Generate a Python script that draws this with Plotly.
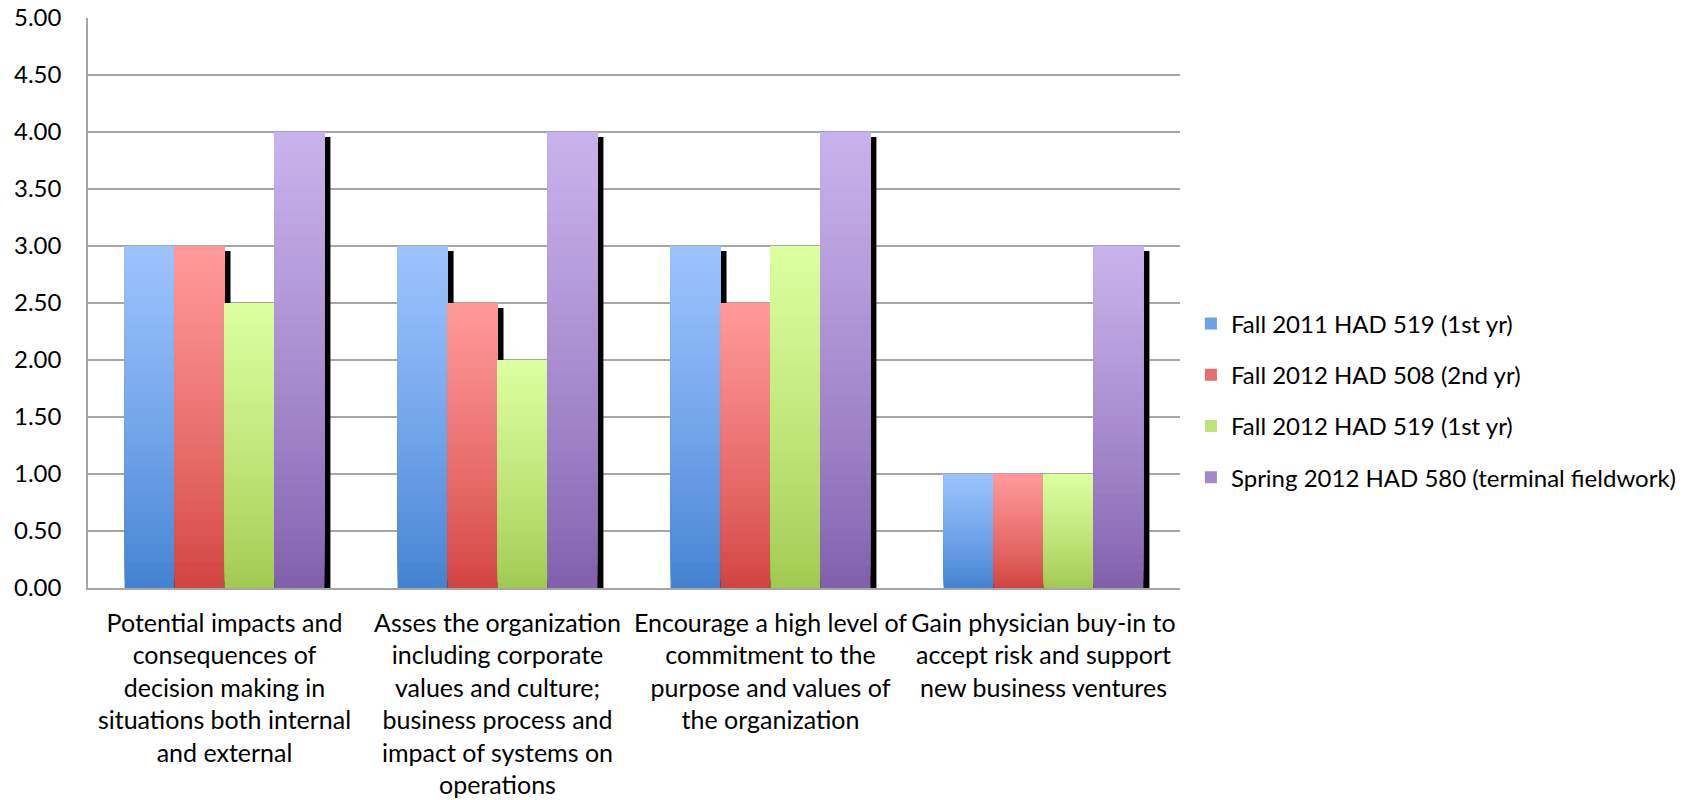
import plotly.graph_objects as go

categories = [
    "Potential impacts and<br>consequences of<br>decision making in<br>situations both internal<br>and external",
    "Asses the organization<br>including corporate<br>values and culture;<br>business process and<br>impact of systems on<br>operations",
    "Encourage a high level of<br>commitment to the<br>purpose and values of<br>the organization",
    "Gain physician buy-in to<br>accept risk and support<br>new business ventures",
]
series_names = [
    "Fall 2011 HAD 519 (1st yr)",
    "Fall 2012 HAD 508 (2nd yr)",
    "Fall 2012 HAD 519 (1st yr)",
    "Spring 2012 HAD 580 (terminal fieldwork)",
]
fall2011_had519 = [3.0, 3.0, 3.0, 1.0]
fall2012_had508 = [3.0, 2.5, 2.5, 1.0]
fall2012_had519 = [2.5, 2.0, 3.0, 1.0]
spring2012_had580 = [4.0, 4.0, 4.0, 3.0]
y_ticks = [0, 0.5, 1, 1.5, 2, 2.5, 3, 3.5, 4, 4.5, 5]

series_values = [fall2011_had519, fall2012_had508, fall2012_had519, spring2012_had580]
# (top colour, bottom colour) of the vertical gradient per series
grad = [
    ((157, 195, 255), (64, 128, 208)),
    ((255, 154, 154), (208, 65, 62)),
    ((220, 255, 160), (160, 200, 78)),
    ((201, 179, 236), (127, 93, 171)),
]

FONT = "Lato"
BAR_W = 0.183
OFFSETS = [-0.366, -0.183, 0.0, 0.183]
N = 40

fig = go.Figure()

# drop shadows (behind bars)
for s, vals in enumerate(series_values):
    fig.add_trace(go.Bar(
        x=categories, y=[v - 0.02 for v in vals], base=-0.024,
        offset=OFFSETS[s] + 0.022, width=BAR_W,
        marker=dict(color="black", line=dict(width=0)),
        showlegend=False, hoverinfo="skip", cliponaxis=False,
    ))

def mix(c1, c2, t):
    return "rgb(%d,%d,%d)" % tuple(round(a + (b - a) * t) for a, b in zip(c1, c2))

for s, vals in enumerate(series_values):
    top, bot = grad[s]
    xs, ys, bs, cs = [], [], [], []
    # overlapping slices: slice k spans from v*k/N up to v; later slices cover upper part
    for k in range(N):
        t = (k + 0.5) / N  # 0 bottom -> 1 top
        for c, v in zip(categories, vals):
            xs.append(c)
            bs.append(v * k / N)
            ys.append(v - v * k / N)
            cs.append(mix(bot, top, t ** 0.8))
    mid = mix(bot, top, 0.5)
    fig.add_trace(go.Bar(
        x=xs, y=ys, base=bs, offset=OFFSETS[s], width=BAR_W,
        marker=dict(color=cs, line=dict(width=0)),
        showlegend=False, hoverinfo="skip",
    ))
    fig.add_trace(go.Bar(
        x=[categories[0]], y=[0], base=0, offset=OFFSETS[s], width=BAR_W,
        marker=dict(color=mid, line=dict(width=0)),
        name=series_names[s], legendgroup=series_names[s], showlegend=True,
        hoverinfo="skip",
    ))

fig.update_layout(
    template="none",
    width=1695, height=800,
    barmode="overlay",
    paper_bgcolor="white", plot_bgcolor="white",
    margin=dict(l=88, r=515, t=18, b=212, autoexpand=False),
    font=dict(family=FONT, size=24, color="black"),
    legend=dict(
        x=1.01, xanchor="left", y=0.329, yanchor="middle",
        xref="paper", yref="paper",
        font=dict(family=FONT, size=24, color="black"),
        traceorder="grouped", tracegroupgap=17,
        bgcolor="rgba(0,0,0,0)", borderwidth=0,
    ),
    xaxis=dict(
        type="category", categoryorder="array", categoryarray=categories,
        showgrid=False, showline=True, linecolor="#A6A6A6", linewidth=1.5,
        ticks="outside", ticklen=12, tickcolor="rgba(0,0,0,0)",
        tickfont=dict(family=FONT, size=25, color="black"),
        automargin=False, zeroline=False,
    ),
    yaxis=dict(
        range=[0, 5.0001], tickvals=y_ticks, tickformat=".2f",
        showgrid=True, gridcolor="#A6A6A6", gridwidth=1.5,
        showline=True, linecolor="#A6A6A6", linewidth=1.5,
        ticks="outside", ticklen=20, tickcolor="rgba(0,0,0,0)",
        tickfont=dict(family=FONT, size=24, color="black"),
        ticklabeloverflow="allow",
        automargin=False, zeroline=False,
    ),
)

fig.write_html(
    "out.html",
    config={"displayModeBar": False},
    post_script="document.body.style.margin='0';document.body.style.overflow='hidden';",
)
